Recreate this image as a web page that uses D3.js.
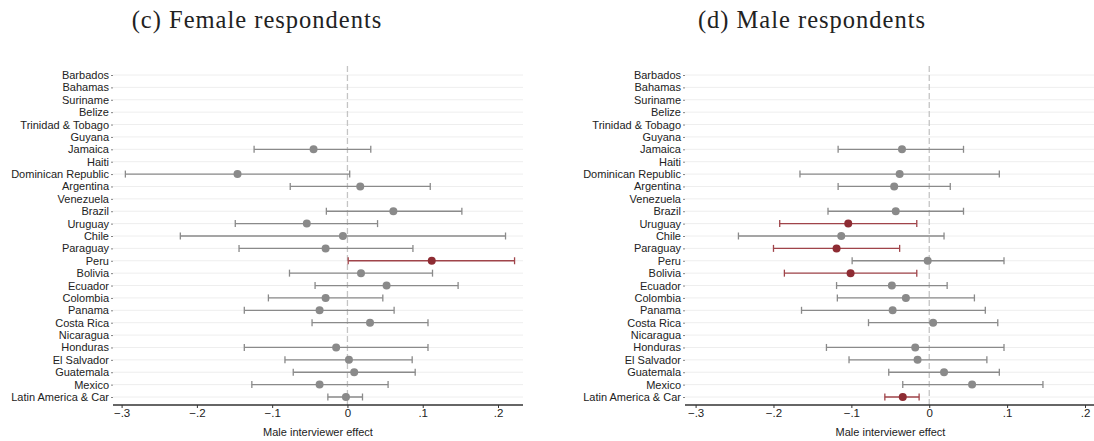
<!DOCTYPE html>
<html>
<head>
<meta charset="utf-8">
<script src="https://cdn.jsdelivr.net/npm/d3@7"></script>
<style>
  html, body { margin: 0; padding: 0; background: #fff; }
  svg { display: block; }
</style>
</head>
<body>
<svg id="chart" width="1094" height="441"></svg>
<script>
// ---- data ----
const countries = ["Barbados","Bahamas","Suriname","Belize","Trinidad & Tobago","Guyana","Jamaica","Haiti",
  "Dominican Republic","Argentina","Venezuela","Brazil","Uruguay","Chile","Paraguay","Peru","Bolivia",
  "Ecuador","Colombia","Panama","Costa Rica","Nicaragua","Honduras","El Salvador","Guatemala","Mexico",
  "Latin America & Car"];
// Female respondents (c): estimate, lower, upper (null = no estimate)
const femaleEst = [null,null,null,null,null,null,-0.045,null,-0.146,0.017,null,0.061,-0.054,-0.006,-0.029,0.112,0.018,0.052,-0.029,-0.037,0.030,null,-0.015,0.002,0.009,-0.037,-0.002];
const femaleLo  = [null,null,null,null,null,null,-0.124,null,-0.295,-0.076,null,-0.028,-0.149,-0.222,-0.144,0.001,-0.077,-0.043,-0.105,-0.137,-0.047,null,-0.137,-0.083,-0.072,-0.127,-0.026];
const femaleHi  = [null,null,null,null,null,null,0.031,null,0.003,0.110,null,0.152,0.040,0.210,0.087,0.222,0.113,0.147,0.047,0.062,0.107,null,0.107,0.086,0.090,0.054,0.020];
const femaleSig = [0,0,0,0,0,0,0,0,0,0,0,0,0,0,0,1,0,0,0,0,0,0,0,0,0,0,0];
// Male respondents (d)
const maleEst = [null,null,null,null,null,null,-0.035,null,-0.038,-0.045,null,-0.043,-0.104,-0.113,-0.119,-0.002,-0.101,-0.048,-0.030,-0.047,0.005,null,-0.018,-0.015,0.019,0.055,-0.034];
const maleLo  = [null,null,null,null,null,null,-0.117,null,-0.166,-0.117,null,-0.130,-0.192,-0.245,-0.200,-0.099,-0.186,-0.119,-0.118,-0.164,-0.078,null,-0.132,-0.103,-0.052,-0.034,-0.057];
const maleHi  = [null,null,null,null,null,null,0.044,null,0.090,0.027,null,0.044,-0.016,0.019,-0.038,0.096,-0.016,0.023,0.058,0.072,0.088,null,0.096,0.074,0.090,0.146,-0.013];
const maleSig = [0,0,0,0,0,0,0,0,0,0,0,0,1,0,1,0,1,0,0,0,0,0,0,0,0,0,1];
const tickValues = [-0.3,-0.2,-0.1,0,0.1,0.2];
const tickLabels = ["\u2212.3","\u2212.2","\u2212.1","0",".1",".2"];
const titles = ["(c) Female respondents","(d) Male respondents"];
const axisTitle = "Male interviewer effect";

// ---- layout ----
const svg = d3.select("#chart");
const panels = [
  {title: titles[0], est: femaleEst, lo: femaleLo, hi: femaleHi, sig: femaleSig,
   tick0: 121.6, tick2: 498, x0: 113, x1: 523, titleX: 257},
  {title: titles[1], est: maleEst, lo: maleLo, hi: maleHi, sig: maleSig,
   tick0: 695.6, tick2: 1085, x0: 685, x1: 1096, titleX: 812}
];
const yTop = 75, yBot = 397, axisY = 405;
const grey = "#8a8a8a", red = "#8e2c33", redLine = "#a0444a";

panels.forEach(p => {
  const x = d3.scaleLinear().domain([-0.3, 0.2]).range([p.tick0, p.tick2]);
  const y = d3.scalePoint().domain(countries).range([yTop, yBot]);
  const g = svg.append("g");

  g.append("text").attr("x", p.titleX).attr("y", 28).attr("text-anchor", "middle")
    .attr("font-family", "'Liberation Serif', serif").attr("font-size", 24.5)
    .attr("letter-spacing", 1).attr("fill", "#222")
    .text(p.title);

  // gridlines
  g.selectAll("line.grid").data(countries).join("line")
    .attr("x1", p.x0).attr("x2", p.x1)
    .attr("y1", d => y(d)).attr("y2", d => y(d))
    .attr("stroke", "#eeeeee").attr("stroke-width", 1);

  // zero reference line
  g.append("line").attr("x1", x(0)).attr("x2", x(0)).attr("y1", 66).attr("y2", axisY)
    .attr("stroke", "#c4c4c4").attr("stroke-width", 1.3).attr("stroke-dasharray", "6,3");

  // y axis
  const yAxis = d3.axisLeft(y).tickSize(2).tickPadding(2);
  const ya = g.append("g").attr("transform", `translate(${p.x0},0)`).call(yAxis);
  ya.select(".domain").remove();
  ya.selectAll(".tick line").attr("stroke", "#666").attr("stroke-width", 0.8);
  ya.selectAll(".tick text").attr("font-family", "'Liberation Sans', Arial, sans-serif")
    .attr("font-size", 11).attr("fill", "#222");

  // x axis
  const xAxis = d3.axisBottom(x).tickValues(tickValues).tickSize(3).tickPadding(1)
    .tickFormat((d, i) => tickLabels[i]);
  const xa = g.append("g").attr("transform", `translate(0,${axisY})`).call(xAxis);
  xa.select(".domain").attr("d", `M${p.x0},0H${p.x1}`).attr("stroke", "#333").attr("stroke-width", 1.4);
  xa.selectAll(".tick line").attr("stroke", "#333").attr("stroke-width", 1);
  xa.selectAll(".tick text").attr("font-family", "'Liberation Sans', Arial, sans-serif")
    .attr("font-size", 11.5).attr("fill", "#222");

  g.append("text").attr("x", (p.x0 + p.x1) / 2).attr("y", 436).attr("text-anchor", "middle")
    .attr("font-family", "'Liberation Sans', Arial, sans-serif").attr("font-size", 11).attr("fill", "#222")
    .text(axisTitle);

  const rows = countries.map((c, i) => ({c, e: p.est[i], lo: p.lo[i], hi: p.hi[i], s: p.sig[i]}))
    .filter(d => d.e !== null);

  const cap = 3.5;
  const eg = g.append("g");
  rows.forEach(d => {
    const col = d.s ? redLine : grey;
    eg.append("line").attr("x1", x(d.lo)).attr("x2", x(d.hi)).attr("y1", y(d.c)).attr("y2", y(d.c))
      .attr("stroke", col).attr("stroke-width", 1.3);
    [d.lo, d.hi].forEach(v => {
      eg.append("line").attr("x1", x(v)).attr("x2", x(v)).attr("y1", y(d.c) - cap).attr("y2", y(d.c) + cap)
        .attr("stroke", col).attr("stroke-width", 1.3);
    });
  });
  g.selectAll("circle.pt").data(rows).join("circle")
    .attr("cx", d => x(d.e)).attr("cy", d => y(d.c)).attr("r", 4)
    .attr("fill", d => d.s ? red : grey);
});
</script>
</body>
</html>
